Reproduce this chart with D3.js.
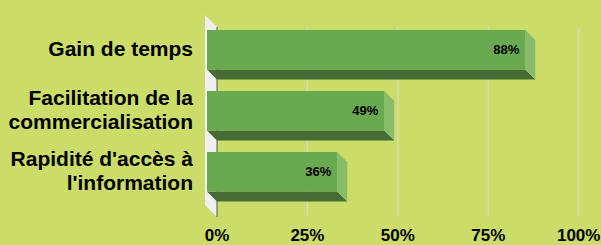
<!DOCTYPE html>
<html><head><meta charset="utf-8">
<script src="https://cdn.jsdelivr.net/npm/d3@7"></script>
<style>html,body{margin:0;padding:0;background:#cbdd68;}svg{display:block;}</style>
</head><body>
<script>
const categories = ["Gain de temps", "Facilitation de la commercialisation", "Rapidité d'accès à l'information"];
const categoryLines = [["Gain de temps"], ["Facilitation de la", "commercialisation"], ["Rapidité d'accès à", "l'information"]];
const values = [88, 49, 36];
const valueLabels = ["88%", "49%", "36%"];
const tickValues = [0, 25, 50, 75, 100];
const tickLabels = ["0%", "25%", "50%", "75%", "100%"];

const W = 601, H = 245;
const DX = 10, DY = 10;
const svg = d3.select("body").append("svg").attr("width", W).attr("height", H);
svg.append("rect").attr("width", W).attr("height", H).attr("fill", "#cbdd68");

const xBack = d3.scaleLinear().domain([0, 100]).range([217, 578.7]);
const xFront = v => xBack(v) - DX;
const y = d3.scaleBand().domain(categories).range([19.25, 202.25]).paddingInner(0.3525).paddingOuter(0.176);

const wallTop = 27, wallBottom = 217;
// side wall
svg.append("polygon")
  .attr("points", [[xBack(0) - 12, wallTop - 12], [xBack(0), wallTop], [xBack(0), wallBottom], [xBack(0) - 12, wallBottom - 12]].map(p => p.join(",")).join(" "))
  .attr("fill", "#efefef");
// gridlines
svg.selectAll("line.grid").data(tickValues.slice(1)).enter().append("line")
  .attr("class", "grid")
  .attr("x1", d => xBack(d)).attr("x2", d => xBack(d))
  .attr("y1", wallTop).attr("y2", wallBottom)
  .attr("stroke", "#d9d9c9").attr("stroke-width", 1.2);
// axis line
svg.append("line").attr("x1", xBack(0)).attr("x2", xBack(0)).attr("y1", wallTop).attr("y2", wallBottom)
  .attr("stroke", "#555").attr("stroke-width", 1);

const bars = svg.selectAll("g.bar").data(categories).enter().append("g").attr("class", "bar");
bars.each(function(c, i) {
  const g = d3.select(this);
  const x0 = xFront(0), x1 = xFront(values[i]);
  const yt = y(c), yb = y(c) + y.bandwidth();
  g.append("polygon")
    .attr("points", [[x0, yb], [x1, yb], [x1 + DX, yb + DY], [x0 + DX, yb + DY]].map(p => p.join(",")).join(" "))
    .attr("fill", "#476b35");
  g.append("polygon")
    .attr("points", [[x1, yt], [x1 + DX, yt + DY], [x1 + DX, yb + DY], [x1, yb]].map(p => p.join(",")).join(" "))
    .attr("fill", "#87bc6b");
  g.append("rect").attr("x", x0).attr("y", yt).attr("width", x1 - x0).attr("height", y.bandwidth())
    .attr("fill", "#69a950");
  g.append("text").attr("x", x1 - 6).attr("y", yt + y.bandwidth() / 2 + 4.5)
    .attr("text-anchor", "end").attr("font-family", "Liberation Sans, Arial, sans-serif")
    .attr("font-weight", "bold").attr("font-size", 13).attr("fill", "#000")
    .text(valueLabels[i]);
});

// category labels
categories.forEach((c, i) => {
  const lines = categoryLines[i];
  const cy = y(c) + y.bandwidth() / 2;
  const t = svg.append("text").attr("text-anchor", "end")
    .attr("font-family", "Liberation Sans, Arial, sans-serif")
    .attr("font-weight", "bold").attr("font-size", 21).attr("fill", "#000");
  lines.forEach((l, j) => {
    t.append("tspan").attr("x", 193).attr("y", cy + (j - (lines.length - 1) / 2) * 24 + 6.5).text(l);
  });
});

// tick labels
svg.selectAll("text.tick").data(tickValues).enter().append("text")
  .attr("class", "tick")
  .attr("x", d => xBack(d)).attr("y", 241)
  .attr("text-anchor", "middle").attr("font-family", "Liberation Sans, Arial, sans-serif")
  .attr("font-weight", "bold").attr("font-size", 17).attr("fill", "#000")
  .text((d, i) => tickLabels[i]);
</script>
</body></html>
